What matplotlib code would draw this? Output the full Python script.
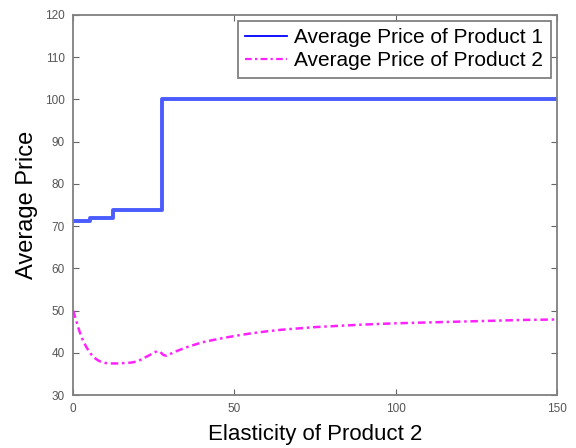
import matplotlib
matplotlib.use("Agg")
from matplotlib import pyplot as plt

plt.rcParams['font.family'] = ['Liberation Sans', 'DejaVu Sans']

# Product 1: step levels
p1_x = [0, 5.3, 12.4, 27.5, 150]
p1_y = [71.3, 71.9, 73.7, 100.0, 100.0]

# Product 2: smooth curve
p2_x = [0, 1, 2, 3, 4, 5, 6, 7, 8, 9, 10, 12, 14, 16, 18, 20, 22, 24, 26, 27,
        28, 29, 30, 32, 35, 40, 45, 50, 55, 60, 65, 70, 75, 80, 90, 100, 110,
        120, 130, 140, 150]
p2_y = [50.0, 47.5, 45.0, 43.0, 41.5, 40.2, 39.3, 38.6, 38.1, 37.8, 37.6, 37.5,
        37.5, 37.6, 37.7, 38.0, 38.8, 39.6, 40.4, 40.2, 39.5, 39.3, 39.7, 40.4,
        41.3, 42.5, 43.3, 44.0, 44.6, 45.1, 45.5, 45.8, 46.1, 46.3, 46.7, 47.0,
        47.2, 47.4, 47.6, 47.8, 47.9]

fig = plt.figure(figsize=(5.76, 4.48), dpi=100)
ax = fig.add_axes([0.127, 0.118, 0.840, 0.849])

ax.plot(p1_x, p1_y, drawstyle="steps-post", color="#4a5cff", lw=2.8,
        label="Average Price of Product 1")
ax.plot(p2_x, p2_y, color="#ff22ff", lw=1.8, linestyle=(0, (3, 1.5, 1, 1.5)),
        label="Average Price of Product 2")

ax.set_xlim(0, 150)
ax.set_ylim(30, 120)
ax.set_xticks([0, 50, 100, 150])
ax.set_yticks(range(30, 121, 10))
ax.tick_params(direction="in", top=True, right=True, labelsize=8.5,
               colors="#666666", length=4, pad=6)
for lab in ax.get_xticklabels() + ax.get_yticklabels():
    lab.set_family(['Liberation Sans Narrow', 'Liberation Sans'])
    lab.set_color("#555555")
for s in ax.spines.values():
    s.set_color("#808080")
    s.set_linewidth(1.3)

ax.set_xlabel("Elasticity of Product 2", fontsize=16, labelpad=6)
ax.set_ylabel("Average Price", fontsize=17, labelpad=5)

leg = ax.legend(loc="upper right", fontsize=15, fancybox=False,
                framealpha=1, edgecolor="#808080", borderaxespad=0.3,
                handlelength=2.0, borderpad=0.35, labelspacing=0.2,
                handletextpad=0.35)
leg.get_frame().set_linewidth(1.3)
leg_lines = leg.get_lines()
leg_lines[0].set_color("#0000ff")
leg_lines[0].set_linewidth(1.3)
leg_lines[1].set_linewidth(1.6)

fig.savefig("out.png", dpi=100)
